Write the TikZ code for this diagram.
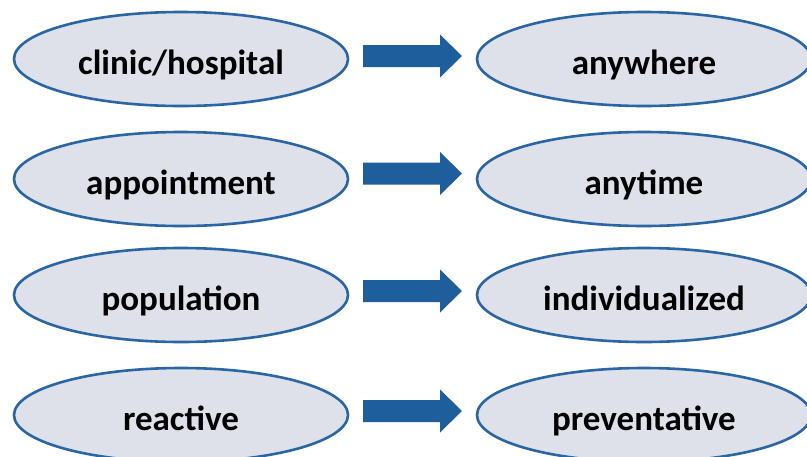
\documentclass[tikz,border=0pt]{standalone}
\usepackage{fontspec}
\setmainfont{Carlito}
\usetikzlibrary{shapes.geometric}
\definecolor{ellfill}{HTML}{DEE1EA}
\definecolor{ellline}{HTML}{2A66A3}
\definecolor{arrblue}{HTML}{1F5E9C}
\tikzset{
  oval/.style={ellipse, draw=ellline, fill=ellfill, line width=2.6pt,
    minimum width=334pt, minimum height=94pt, inner sep=0pt,
    text height=31pt, text depth=0pt,
    font=\fontsize{35}{38}\selectfont\bfseries, text=black},
  blockarrow/.style={fill=arrblue, draw=none}
}
\newcommand{\myarrow}[1]{%
  \fill[blockarrow] (#1) ++(0,-11) -- ++(77,0) -- ++(0,-10.5) -- ++(22,21.5)
    -- ++(-22,21.5) -- ++(0,-10.5) -- ++(-77,0) -- cycle;}
\begin{document}
\begin{tikzpicture}[x=1pt,y=-1pt]
\useasboundingbox (0,0) rectangle (807,456);
\fill[white] (0,0) rectangle (807,456);
\node[oval] (l1) at (181,59) {clinic/hospital};
\node[oval] (r1) at (644,59) {anywhere};
\node[oval] (l2) at (181,179) {appointment};
\node[oval] (r2) at (644,179) {anytime};
\node[oval] (l3) at (181,295) {population};
\node[oval] (r3) at (644,295) {individualized};
\node[oval] (l4) at (181,415) {reactive};
\node[oval] (r4) at (644,415) {preventative};
\coordinate (a1) at (363,56);
\coordinate (a2) at (363,173.5);
\coordinate (a3) at (363,291);
\coordinate (a4) at (363,411);
\myarrow{a1}
\myarrow{a2}
\myarrow{a3}
\myarrow{a4}
\end{tikzpicture}
\end{document}
